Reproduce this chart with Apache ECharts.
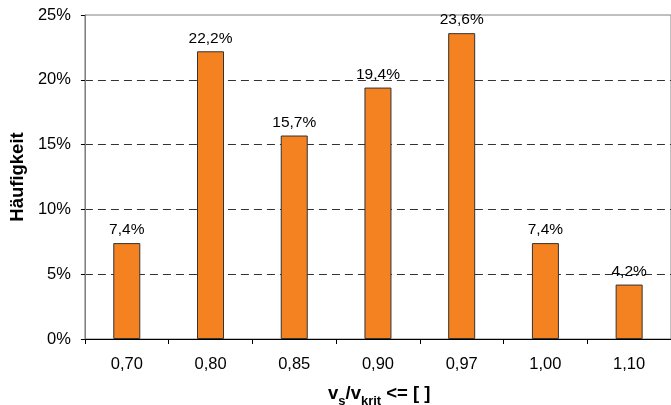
<!DOCTYPE html>
<html><head><meta charset="utf-8">
<script src="https://cdn.jsdelivr.net/npm/echarts@6/dist/echarts.min.js"></script>
<style>html,body{margin:0;padding:0;background:#fff}#c{width:671px;height:405px}</style>
</head><body><div id="c"></div>
<script>
var categories = ['0,70','0,80','0,85','0,90','0,97','1,00','1,10'];
var values = [7.4, 22.2, 15.7, 19.4, 23.6, 7.4, 4.2];
var yTicks = [0, 5, 10, 15, 20, 25];

var chart = echarts.init(document.getElementById('c'));
var font = 'Liberation Sans, Arial, sans-serif';
var gridColors = yTicks.map(function(v, i){ return i === yTicks.length - 1 ? 'rgba(0,0,0,0)' : '#333'; });
chart.setOption({
  animation: false,
  grid: {left: 83, top: 15, width: 593, height: 324, show: true, borderColor: '#808080', borderWidth: 1},
  xAxis: {
    type: 'category', data: categories,
    axisLine: {lineStyle: {color: '#000', width: 1}},
    axisTick: {show: true, length: 5, lineStyle: {color: '#000'}},
    axisLabel: {color: '#000', fontSize: 16.5, fontFamily: font, margin: 17}
  },
  yAxis: {
    type: 'value', min: yTicks[0], max: yTicks[yTicks.length-1], interval: 5,
    name: 'Häufigkeit', nameLocation: 'middle', nameGap: 53,
    nameTextStyle: {color: '#000', fontSize: 18.5, fontWeight: 'bold', fontFamily: font},
    axisLine: {show: true, lineStyle: {color: '#808080', width: 1}},
    axisTick: {show: true, length: 4, lineStyle: {color: '#000'}},
    axisLabel: {color: '#000', fontSize: 16.5, fontFamily: font, margin: 14, formatter: '{value}%'},
    splitLine: {show: true, lineStyle: {color: gridColors, type: [8, 5], width: 1}}
  },
  series: [{
    type: 'bar', data: values, barWidth: 27,
    itemStyle: {color: '#F58220', borderColor: '#333', borderWidth: 1},
    label: {show: true, position: 'top', distance: 5, color: '#000', fontSize: 15.5, fontFamily: font,
      formatter: function(p){ return p.value.toFixed(1).replace('.', ',') + '%'; }}
  }],
  graphic: [{
    type: 'text', left: 328, top: 384,
    style: {
      text: '{b|v}{s|s}{b|/v}{s|krit}{b| <= [ ]}',
      rich: {
        b: {fontSize: 18.5, fontWeight: 'bold', fontFamily: font, fill: '#000', verticalAlign: 'bottom', lineHeight: 20},
        s: {fontSize: 13, fontWeight: 'bold', fontFamily: font, fill: '#000', verticalAlign: 'bottom', lineHeight: 14, padding: [0,0,-5,0]}
      }
    }
  }]
});
</script></body></html>
